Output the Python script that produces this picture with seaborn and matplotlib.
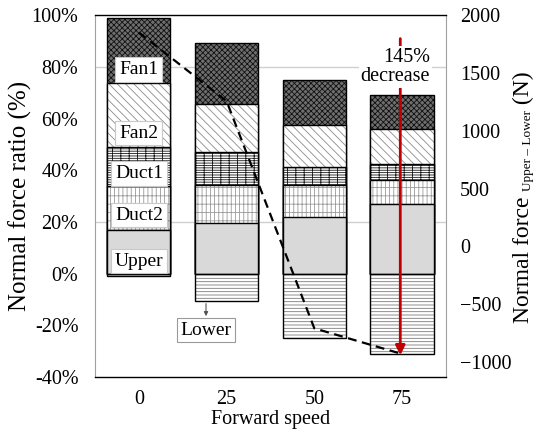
import matplotlib
matplotlib.use("Agg")
import matplotlib.pyplot as plt
import seaborn as sns
import numpy as np
from matplotlib.ticker import FuncFormatter

speeds = ['0', '25', '50', '75']
fan1 = [25.2, 23.6, 17.2, 13.3]
fan2 = [24.5, 18.7, 16.6, 13.5]
duct1 = [15.3, 12.6, 6.8, 6.1]
duct2 = [16.9, 14.6, 12.3, 9.4]
upper = [16.9, 19.7, 22.0, 26.8]
lower = [1.0, 10.5, 24.9, 31.0]
normal_force = [1850, 1256, -708, -930]
left_ticks = [-40, -20, 0, 20, 40, 60, 80, 100]
right_ticks = [-1000, -500, 0, 500, 1000, 1500, 2000]

sns.set_theme(style="white")
plt.rcParams['font.family'] = ['Liberation Serif', 'DejaVu Serif']
plt.rcParams['hatch.linewidth'] = 0.6
for k in ['text.color', 'axes.labelcolor', 'xtick.color', 'ytick.color']:
    plt.rcParams[k] = 'black'

fig = plt.figure(figsize=(5.34, 4.33), dpi=100)
ax = fig.add_axes([0.178, 0.129, 0.657, 0.836])

layers = [
    ('Fan1', fan1, '#6e6e6e', 'xxxxxx', '#111111'),
    ('Fan2', fan2, 'white', '\\\\\\\\', '#8c8c8c'),
    ('Duct1', duct1, 'white', '-----++', '#1a1a1a'),
    ('Duct2', duct2, 'white', '||++', '#9a9a9a'),
    ('Upper', upper, '#d9d9d9', None, '#d9d9d9'),
]
order_bottom_up = layers[::-1]
cums = {}
running = np.zeros(len(speeds))
for name, vals, fc, h, hc in order_bottom_up:
    running = running + np.array(vals)
    cums[name] = running.copy()

for g in [20, 80]:
    ax.axhline(g, color='#d0d0d0', lw=1, zorder=0)

W = 0.72
for name, vals, fc, h, hc in layers:
    sns.barplot(x=speeds, y=cums[name], ax=ax, color=fc, saturation=1,
                width=W, errorbar=None, hatch=h, edgecolor=hc, linewidth=0)
    sns.barplot(x=speeds, y=cums[name], ax=ax, color='black', fill=False,
                width=W, errorbar=None, linewidth=1)

neg = -np.array(lower)
sns.barplot(x=speeds, y=neg, ax=ax, color='white', saturation=1, width=W,
            errorbar=None, hatch='-----', edgecolor='#7a7a7a', linewidth=0)
sns.barplot(x=speeds, y=neg, ax=ax, color='black', fill=False, width=W,
            errorbar=None, linewidth=1)

ax.set_xlim(-0.5, 3.5)
ax.set_ylim(-40, 100)
ax.set_yticks(left_ticks)
ax.yaxis.set_major_formatter(FuncFormatter(lambda v, p: f"{int(v)}%"))
ax.tick_params(axis='x', labelsize=14.5, length=0, pad=9, colors='black')
ax.tick_params(axis='y', labelsize=14.5, length=0, pad=12, colors='black')
ax.set_xlabel('Forward speed', fontsize=14.5, labelpad=1, color='black')
ax.set_ylabel('Normal force ratio (%)', fontsize=18, color='black')
ax.yaxis.set_label_coords(-0.18, 0.5)
for s in ['top', 'bottom']:
    ax.spines[s].set_color('black')
    ax.spines[s].set_linewidth(1)
for s in ['left', 'right']:
    ax.spines[s].set_color('#a0a0a0')
    ax.spines[s].set_linewidth(0.8)

lab_y = {'Fan1': 79.1, 'Fan2': 54.4, 'Duct1': 38.9, 'Duct2': 22.7, 'Upper': 4.9}
for name, yv in lab_y.items():
    ax.text(0, yv, name, ha='center', va='center', fontsize=14, zorder=10, color='black',
            bbox=dict(boxstyle='square,pad=0.2', fc='white', ec='#c8c8c8', lw=0.8))
ax.annotate('', xy=(0.765, -17.5), xytext=(0.765, -10.5),
            arrowprops=dict(arrowstyle='-|>', color='#555555', lw=0.8, mutation_scale=6),
            zorder=10)
ax.text(0.765, -21.8, 'Lower', ha='center', va='center', fontsize=14, zorder=10, color='black',
        bbox=dict(boxstyle='square,pad=0.2', fc='white', ec='#9a9a9a', lw=0.8))

ax2 = ax.twinx()
sns.lineplot(x=[0, 1, 2, 3], y=normal_force, ax=ax2, color='black', lw=1.6,
             linestyle=(0, (4, 2.5)))
ax2.set_ylim(-1130, 2000)
ax2.set_yticks(right_ticks)
ax2.tick_params(axis='y', labelsize=14.5, length=0, pad=10, colors='black')
ax2.set_ylabel('')
for s in ax2.spines.values():
    s.set_visible(False)

# right axis label built from pieces (main text + small subscript)
fig.canvas.draw()
renderer = fig.canvas.get_renderer()
W_px, H_px = fig.bbox.width, fig.bbox.height
pieces = [('Normal force ', 17, 529), ('Upper \u2013 Lower', 9.5, 531), (' (N)', 17, 529)]
objs = []
for txt, fs, xb in pieces:
    t = fig.text(xb / W_px, 0, txt, rotation=90, rotation_mode='anchor',
                 ha='left', va='baseline', fontsize=fs, color='black')
    objs.append(t)
fig.canvas.draw()
lengths = [t.get_window_extent(renderer).height for t in objs]
total = sum(lengths)
center_y = H_px - 197
y = center_y - total / 2
for t, L in zip(objs, lengths):
    x_fig = t.get_position()[0]
    t.set_position((x_fig, y / H_px))
    y += L

ax2.annotate('', xy=(2.98, -32.6), xytext=(2.98, 92), xycoords=ax.transData,
             textcoords=ax.transData,
             arrowprops=dict(arrowstyle='-|>', color='#c00000', lw=2, mutation_scale=14))
ax2.text(3.32, 80, '145%\ndecrease', transform=ax.transData, ha='right', va='center',
         multialignment='right', fontsize=14.5, linespacing=1.05, color='black',
         bbox=dict(boxstyle='square,pad=0.1', fc='white', ec='none'))

fig.savefig('out.png', dpi=100)
